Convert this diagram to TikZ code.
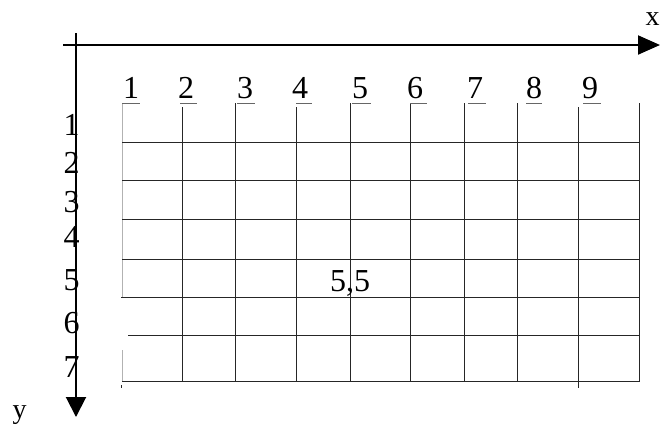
\documentclass[tikz,border=0pt]{standalone}
\usepackage{fontspec}
\setmainfont{Liberation Serif}
\usetikzlibrary{arrows.meta}
\tikzset{
  axis/.style={line width=2bp, black},
  grid line/.style={line width=1bp, black!85},
  faint line/.style={line width=1bp, black!30},
  ul/.style={line width=0.8bp, black!60},
  num/.style={inner sep=0pt, font=\fontsize{32bp}{36bp}\selectfont},
  axlabel/.style={inner sep=0pt, font=\fontsize{28bp}{32bp}\selectfont},
}
\begin{document}
\begin{tikzpicture}[x=1bp, y=-1bp]
\useasboundingbox (0,0) rectangle (661,429);
% axes
\coordinate (xs) at (63,45);
\coordinate (xe) at (660,45);
\coordinate (ys) at (76,33);
\coordinate (ye) at (76,417);
\draw[axis, -{Triangle[length=22bp,width=19bp]}] (xs) -- (xe);
\draw[axis, -{Triangle[length=20bp,width=20bp]}] (ys) -- (ye);
\node[axlabel, anchor=base] (lx) at (652.5,25) {x};
\node[axlabel, anchor=base] (ly) at (19.5,418) {y};
% grid: vertical lines
\draw[faint line] (122,103) -- (122,297);
\draw[faint line] (122,350) -- (122,381);
\draw[grid line] (121,385) -- (121,388);
\foreach \x/\t/\b in {182/107/381,235/103/381,296/107/381,350/103/381,410/103/381,464/103/381,517/103/381,578/107/388,639/103/381}
  \draw[grid line] (\x,\t) -- (\x,\b);
% grid: horizontal lines
\foreach \y/\s in {142/122,180/122,219/122,259/122,297/121,335/128,381/122}
  \draw[grid line] (\s,\y) -- (640,\y);
% top labels
\foreach \n/\x/\u/\w in {1/123/122/18,2/178/180/17,3/237/237/18,4/292/296/16,5/352/352/19,6/407/410/17,7/467/468/18,8/526/526/16,9/582/583/18}{
  \node[num, anchor=base west] (t\n) at (\x,98) {\n};
  \draw[ul] (\u,103) -- ++(\w,0);
}
% left labels
\foreach \n/\y in {1/135,2/173,3/212,4/247,5/290,6/333,7/377}
  \node[num, anchor=base] (l\n) at (71.5,\y) {\n};
% cell label
\node[num, anchor=base west] (c55) at (330,291) {5,5};
\end{tikzpicture}
\end{document}
